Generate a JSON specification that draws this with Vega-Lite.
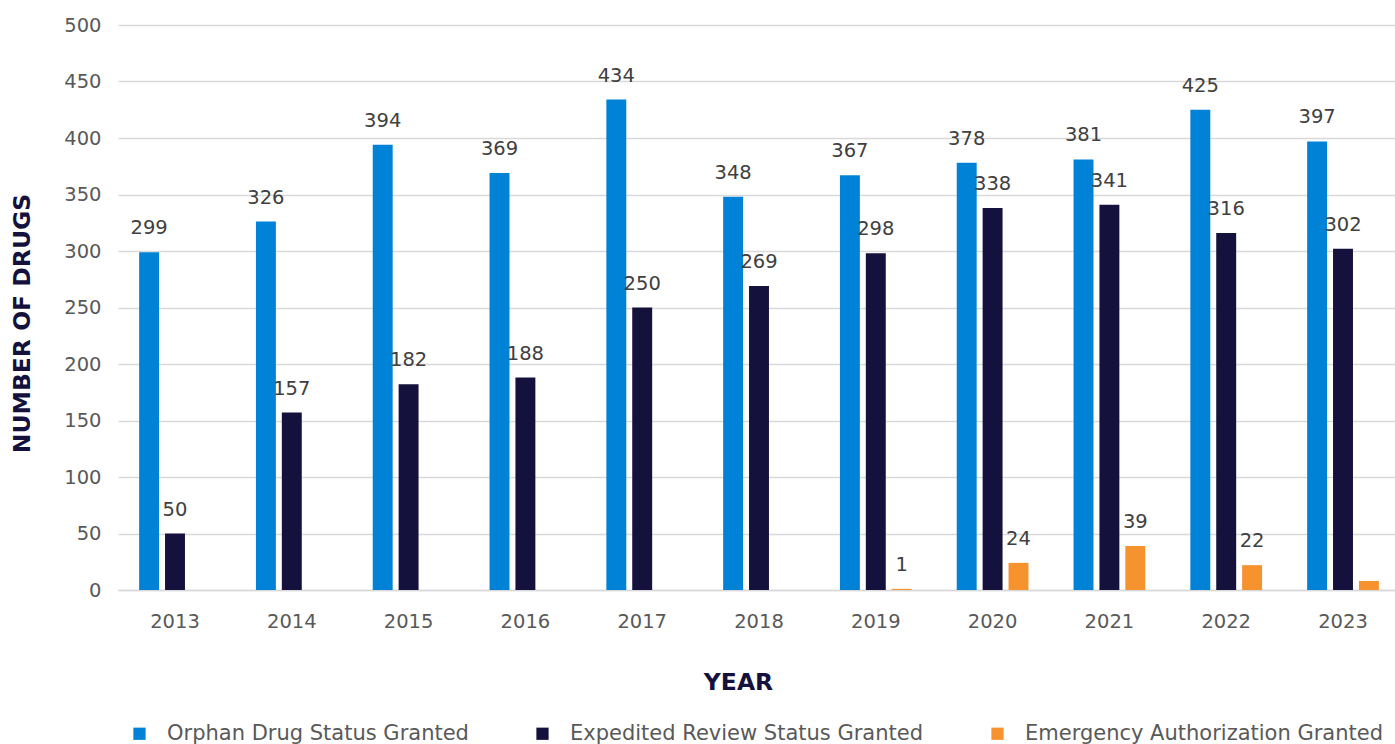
{
  "$schema": "https://vega.github.io/schema/vega-lite/v6.json",
  "width": 1282,
  "height": 565,
  "autosize": "none",
  "padding": {"left": 118, "top": 25, "right": 0, "bottom": 154},
  "background": "white",
  "config": {
    "font": "DejaVu Sans",
    "view": {"stroke": null},
    "axis": {"labelFont": "DejaVu Sans", "titleFont": "DejaVu Sans"},
    "legend": {"labelFont": "DejaVu Sans"}
  },
  "data": {
    "values": [
      {"year": "2013", "series": "Orphan Drug Status Granted", "value": 299, "label": "299"},
      {"year": "2014", "series": "Orphan Drug Status Granted", "value": 326, "label": "326"},
      {"year": "2015", "series": "Orphan Drug Status Granted", "value": 394, "label": "394"},
      {"year": "2016", "series": "Orphan Drug Status Granted", "value": 369, "label": "369"},
      {"year": "2017", "series": "Orphan Drug Status Granted", "value": 434, "label": "434"},
      {"year": "2018", "series": "Orphan Drug Status Granted", "value": 348, "label": "348"},
      {"year": "2019", "series": "Orphan Drug Status Granted", "value": 367, "label": "367"},
      {"year": "2020", "series": "Orphan Drug Status Granted", "value": 378, "label": "378"},
      {"year": "2021", "series": "Orphan Drug Status Granted", "value": 381, "label": "381"},
      {"year": "2022", "series": "Orphan Drug Status Granted", "value": 425, "label": "425"},
      {"year": "2023", "series": "Orphan Drug Status Granted", "value": 397, "label": "397"},
      {"year": "2013", "series": "Expedited Review Status Granted", "value": 50, "label": "50"},
      {"year": "2014", "series": "Expedited Review Status Granted", "value": 157, "label": "157"},
      {"year": "2015", "series": "Expedited Review Status Granted", "value": 182, "label": "182"},
      {"year": "2016", "series": "Expedited Review Status Granted", "value": 188, "label": "188"},
      {"year": "2017", "series": "Expedited Review Status Granted", "value": 250, "label": "250"},
      {"year": "2018", "series": "Expedited Review Status Granted", "value": 269, "label": "269"},
      {"year": "2019", "series": "Expedited Review Status Granted", "value": 298, "label": "298"},
      {"year": "2020", "series": "Expedited Review Status Granted", "value": 338, "label": "338"},
      {"year": "2021", "series": "Expedited Review Status Granted", "value": 341, "label": "341"},
      {"year": "2022", "series": "Expedited Review Status Granted", "value": 316, "label": "316"},
      {"year": "2023", "series": "Expedited Review Status Granted", "value": 302, "label": "302"},
      {"year": "2019", "series": "Emergency Authorization Granted", "value": 1, "label": "1"},
      {"year": "2020", "series": "Emergency Authorization Granted", "value": 24, "label": "24"},
      {"year": "2021", "series": "Emergency Authorization Granted", "value": 39, "label": "39"},
      {"year": "2022", "series": "Emergency Authorization Granted", "value": 22, "label": "22"},
      {"year": "2023", "series": "Emergency Authorization Granted", "value": 8, "label": ""}
    ]
  },
  "encoding": {
    "x": {
      "field": "year",
      "type": "nominal",
      "scale": {"paddingInner": 0.386, "paddingOuter": 0.181},
      "axis": {
        "title": "YEAR",
        "labelAngle": 0,
        "labelFontSize": 19.5,
        "labelColor": "#595959",
        "labelPadding": 31,
        "labelBaseline": "middle",
        "ticks": false,
        "domainColor": "#d9d9d9",
        "domainWidth": 1.5,
        "titleFontSize": 23.5,
        "titleFontWeight": "bold",
        "titleColor": "#14123d",
        "titleX": 620,
        "titleY": 92,
        "titleAnchor": null,
        "titleAlign": "center",
        "titleBaseline": "middle"
      }
    },
    "xOffset": {
      "field": "series",
      "type": "nominal",
      "scale": {
        "domain": ["Orphan Drug Status Granted", "Expedited Review Status Granted", "Emergency Authorization Granted"],
        "paddingInner": 0.23
      }
    },
    "y": {
      "field": "value",
      "type": "quantitative",
      "scale": {"domain": [0, 500], "nice": false},
      "axis": {
        "title": "NUMBER OF DRUGS",
        "values": [0, 50, 100, 150, 200, 250, 300, 350, 400, 450, 500],
        "labelFontSize": 19.5,
        "labelColor": "#595959",
        "labelPadding": 17,
        "ticks": false,
        "domain": false,
        "grid": true,
        "gridColor": "#d9d9d9",
        "gridWidth": 1.5,
        "titleFontSize": 23.5,
        "titleFontWeight": "bold",
        "titleColor": "#14123d",
        "titleAngle": -90,
        "titleX": -96,
        "titleY": 298,
        "titleAlign": "center",
        "titleBaseline": "middle"
      }
    }
  },
  "layer": [
    {
      "mark": {"type": "bar"},
      "encoding": {
        "color": {
          "field": "series",
          "type": "nominal",
          "scale": {
            "domain": ["Orphan Drug Status Granted", "Expedited Review Status Granted", "Emergency Authorization Granted"],
            "range": ["#0083d7", "#14123d", "#f7932f"]
          },
          "legend": {
            "title": null,
            "orient": "none",
            "direction": "horizontal",
            "legendX": 11,
            "legendY": 698,
            "padding": 0,
            "symbolType": "square",
            "symbolSize": 150,
            "symbolStrokeWidth": 0,
            "labelFontSize": 21,
            "labelColor": "#595959",
            "labelOffset": 17,
            "columnPadding": 63,
            "labelLimit": 500
          }
        }
      }
    },
    {
      "mark": {"type": "text", "baseline": "bottom", "dy": -14, "fontSize": 19.5, "color": "#404040"},
      "encoding": {
        "text": {"field": "label", "type": "nominal"}
      }
    }
  ]
}
